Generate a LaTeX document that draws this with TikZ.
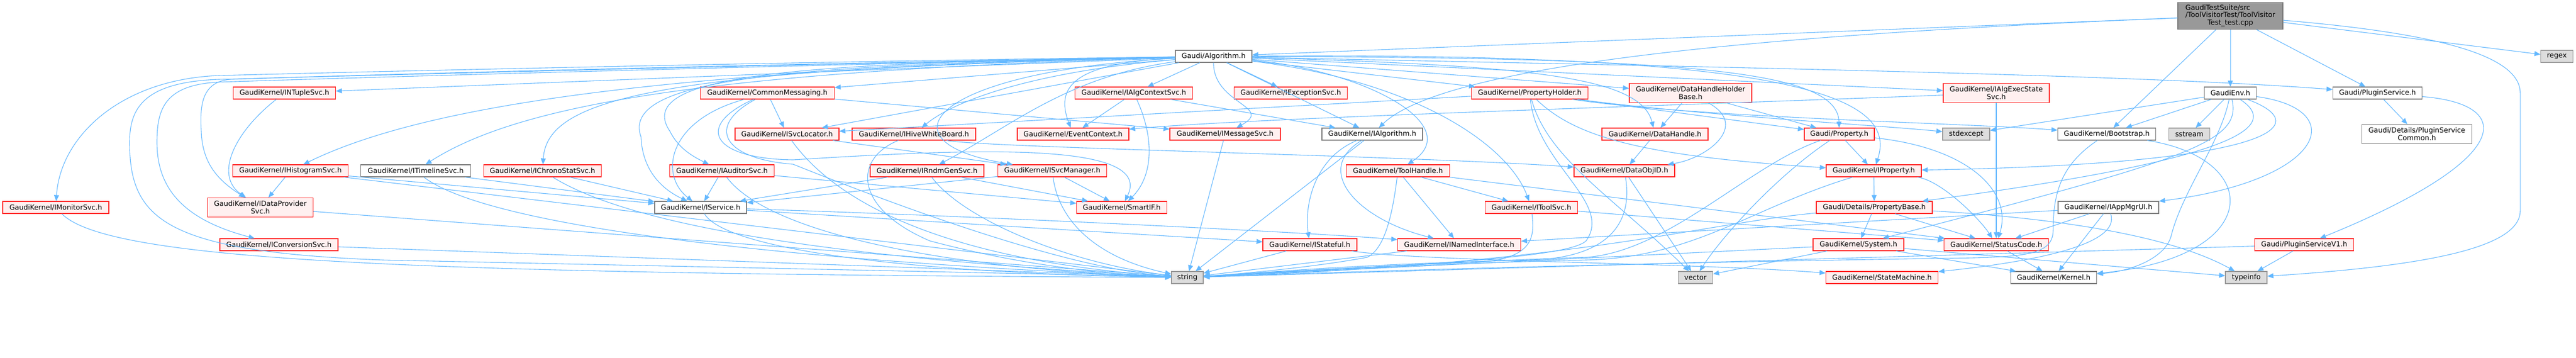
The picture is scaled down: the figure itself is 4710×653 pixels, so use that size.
\documentclass[tikz,border=0pt]{standalone}
\usepackage{fontspec}
\setmainfont{DejaVu Sans}
\usetikzlibrary{arrows.meta}
\definecolor{edgec}{HTML}{63B8FF}
\definecolor{redb}{HTML}{FF2020}
\definecolor{redf}{HTML}{FFF0F0}
\definecolor{grayb}{HTML}{7A7A7A}
\definecolor{extb}{HTML}{999999}
\definecolor{extf}{HTML}{DDDDDD}
\definecolor{rootf}{HTML}{999999}
\begin{document}
\begin{tikzpicture}[x=1pt,y=-1pt,
  box/.style={rectangle, inner sep=0pt, minimum height=22pt, line width=1.2pt, align=center,
    font=\fontsize{12.8pt}{13.7pt}\selectfont},
  rn/.style={box, draw=redb, fill=redf},
  gn/.style={box, draw=grayb, fill=white},
  xn/.style={box, draw=extb, fill=extf},
  rt/.style={box, draw=grayb, fill=rootf},
  dep/.style={draw=edgec, line width=1.1pt, -{Triangle[length=11pt,width=9pt]}}]
\useasboundingbox[fill=white] (0,0) rectangle (4710,653);
% ---------- nodes ----------
\node[rt, minimum width=192pt, minimum height=49pt] (root) at (4078,29)
  {\begin{tabular}{@{}l@{}}GaudiTestSuite/src\\/ToolVisitorTest/ToolVisitor\\\multicolumn{1}{@{}c@{}}{Test\_test.cpp}\end{tabular}};
\node[gn, minimum width=140pt] (alg) at (2219,103) {Gaudi/Algorithm.h};
\node[xn, minimum width=59pt] (regex) at (4675,103) {regex};
% row 2
\node[rn, minimum width=187pt] (intup) at (520,170) {GaudiKernel/INTupleSvc.h};
\node[rn, minimum width=245pt] (cmsg) at (1403,170) {GaudiKernel/CommonMessaging.h};
\node[rn, minimum width=215pt] (actx) at (2073,170) {GaudiKernel/IAlgContextSvc.h};
\node[rn, minimum width=207pt] (iexc) at (2360,170) {GaudiKernel/IExceptionSvc.h};
\node[rn, minimum width=213pt] (phold) at (2797,170) {GaudiKernel/PropertyHolder.h};
\node[rn, minimum width=224pt, minimum height=35pt] (dhhb) at (3091,170) {GaudiKernel/DataHandleHolder\\Base.h};
\node[rn, minimum width=194pt, minimum height=35pt] (aes) at (3650,170) {GaudiKernel/IAlgExecState\\Svc.h};
\node[gn, minimum width=95pt] (genv) at (4078,170) {GaudiEnv.h};
\node[gn, minimum width=163pt] (plug) at (4347,170) {Gaudi/PluginService.h};
% row 3
\node[rn, minimum width=190pt] (isl) at (1439,245) {GaudiKernel/ISvcLocator.h};
\node[rn, minimum width=226pt] (ihwb) at (1671,245) {GaudiKernel/IHiveWhiteBoard.h};
\node[rn, minimum width=204pt] (evc) at (1962,245) {GaudiKernel/EventContext.h};
\node[rn, minimum width=202pt] (imsg) at (2240,245) {GaudiKernel/IMessageSvc.h};
\node[gn, minimum width=184pt] (ialg) at (2509,245) {GaudiKernel/IAlgorithm.h};
\node[rn, minimum width=194pt] (dh) at (3026,245) {GaudiKernel/DataHandle.h};
\node[rn, minimum width=128pt] (prop) at (3363,245) {Gaudi/Property.h};
\node[xn, minimum width=86pt] (stdx) at (3595,245) {stdexcept};
\node[gn, minimum width=179pt] (boot) at (3852,245) {GaudiKernel/Bootstrap.h};
\node[xn, minimum width=75pt] (sstr) at (4003,245) {sstream};
\node[gn, minimum width=201pt, minimum height=35pt] (psc) at (4419,245) {Gaudi/Details/PluginService\\Common.h};
% row 4
\node[rn, minimum width=211pt] (ihist) at (531,312) {GaudiKernel/IHistogramSvc.h};
\node[gn, minimum width=201pt] (itl) at (760,312) {GaudiKernel/ITimelineSvc.h};
\node[rn, minimum width=215pt] (ichr) at (992,312) {GaudiKernel/IChronoStatSvc.h};
\node[rn, minimum width=191pt] (iaud) at (1320,312) {GaudiKernel/IAuditorSvc.h};
\node[rn, minimum width=208pt] (irnd) at (1695,312) {GaudiKernel/IRndmGenSvc.h};
\node[rn, minimum width=199pt] (ism) at (1924,312) {GaudiKernel/ISvcManager.h};
\node[rn, minimum width=189pt] (th) at (2556,312) {GaudiKernel/ToolHandle.h};
\node[rn, minimum width=184pt] (doid) at (2970,312) {GaudiKernel/DataObjID.h};
\node[rn, minimum width=174pt] (iprop) at (3426,312) {GaudiKernel/IProperty.h};
% row 5
\node[rn, minimum width=194pt] (imon) at (102,379) {GaudiKernel/IMonitorSvc.h};
\node[rn, minimum width=193pt, minimum height=35pt] (idp) at (476,379) {GaudiKernel/IDataProvider\\Svc.h};
\node[gn, minimum width=168pt] (isvc) at (1281,379) {GaudiKernel/IService.h};
\node[rn, minimum width=165pt] (sif) at (2051,379) {GaudiKernel/SmartIF.h};
\node[rn, minimum width=169pt] (itool) at (2800,379) {GaudiKernel/IToolSvc.h};
\node[rn, minimum width=212pt] (pbase) at (3427,379) {Gaudi/Details/PropertyBase.h};
\node[gn, minimum width=184pt] (iapp) at (3855,379) {GaudiKernel/IAppMgrUI.h};
% row 6
\node[rn, minimum width=216pt] (iconv) at (510,447) {GaudiKernel/IConversionSvc.h};
\node[rn, minimum width=172pt] (istf) at (2395,447) {GaudiKernel/IStateful.h};
\node[rn, minimum width=225pt] (inamed) at (2668,447) {GaudiKernel/INamedInterface.h};
\node[rn, minimum width=166pt] (sys) at (3398,447) {GaudiKernel/System.h};
\node[rn, minimum width=191pt] (sc) at (3650,447) {GaudiKernel/StatusCode.h};
\node[rn, minimum width=181pt] (pv1) at (4213,447) {Gaudi/PluginServiceV1.h};
% row 7
\node[xn, minimum width=58pt] (str) at (2171,507) {string};
\node[xn, minimum width=63pt] (vec) at (3100,507) {vector};
\node[rn, minimum width=205pt] (smach) at (3441,507) {GaudiKernel/StateMachine.h};
\node[gn, minimum width=157pt] (kern) at (3755,507) {GaudiKernel/Kernel.h};
\node[xn, minimum width=76pt] (tinfo) at (4107,507) {typeinfo};
% ---------- edges ----------
% root
\draw[dep] (root) -- (alg);
\draw[dep] (root) .. controls (3300,60) and (2650,110) .. (ialg);
\draw[dep] (root) -- (genv);
\draw[dep] (root) -- (boot);
\draw[dep] (root) -- (plug);
\draw[dep] (root) -- (regex);
\draw[dep] (root) .. controls (4450,60) and (4608,100) .. (4608,170) -- (4608,385) .. controls (4608,450) and (4450,485) .. (tinfo);
% Algorithm.h
\draw[dep] (alg) .. controls (1500,112) and (700,130) .. (400,138) .. controls (220,145) and (110,250) .. (imon);
\draw[dep] (alg) -- (intup);
\draw[dep] (alg) .. controls (1300,125) and (800,180) .. (ihist);
\draw[dep] (alg) .. controls (1300,130) and (950,190) .. (itl);
\draw[dep] (alg) .. controls (1500,115) and (700,135) .. (420,145) .. controls (370,150) and (365,190) .. (368,240) .. controls (370,300) and (400,330) .. (idp);
\draw[dep] (alg) .. controls (1500,118) and (700,140) .. (400,150) .. controls (300,155) and (287,200) .. (287,260) .. controls (287,340) and (330,400) .. (iconv);
\draw[dep] (alg) .. controls (1500,116) and (700,137) .. (400,145) .. controls (260,150) and (237,200) .. (237,260) .. controls (237,400) and (300,460) .. (700,475) .. controls (1400,490) and (1900,500) .. (str);
\draw[dep] (alg) .. controls (1200,125) and (1000,180) .. (ichr);
\draw[dep] (alg) -- (cmsg);
\draw[dep] (alg) -- (isl);
\draw[dep] (alg) .. controls (1500,115) and (1150,130) .. (1225,240) .. controls (1240,270) and (1265,285) .. (iaud);
\draw[dep] (alg) .. controls (1500,118) and (1130,135) .. (1172,250) .. controls (1175,320) and (1220,350) .. (isvc);
\draw[dep] (alg) .. controls (1900,130) and (1750,180) .. (ihwb);
\draw[dep] (alg) .. controls (1960,115) and (1930,160) .. (evc);
\draw[dep] (alg) .. controls (1950,140) and (1850,230) .. (irnd);
\draw[dep] (alg) .. controls (1700,130) and (1600,260) .. (ism);
\draw[dep] (alg) -- (actx);
\draw[dep] (alg) .. controls (2218,190) and (2330,195) .. (imsg);
\draw[dep] (alg) -- (iexc);
\draw[dep] (alg) -- (ialg);
\draw[dep] (alg) .. controls (2500,130) and (2680,230) .. (th);
\draw[dep] (alg) -- (phold);
\draw[dep] (alg) .. controls (2600,150) and (2760,270) .. (itool);
\draw[dep] (alg) -- (dhhb);
\draw[dep] (alg) .. controls (2800,120) and (3000,140) .. (dh);
\draw[dep] (alg) .. controls (3100,105) and (3360,130) .. (prop);
\draw[dep] (alg) .. controls (3300,95) and (3470,180) .. (iprop);
\draw[dep] (alg) -- (aes);
\draw[dep] (alg) .. controls (3000,120) and (3900,135) .. (plug);
% PluginService
\draw[dep] (plug) -- (psc);
\draw[dep] (plug) .. controls (4600,190) and (4600,290) .. (pv1);
\draw[dep] (pv1) -- (tinfo);
\draw[dep] (pv1) -- (str);
% GaudiEnv
\draw[dep] (genv) -- (boot);
\draw[dep] (genv) -- (sstr);
\draw[dep] (genv) -- (stdx);
\draw[dep] (genv) .. controls (4300,200) and (4250,330) .. (iapp);
\draw[dep] (genv) .. controls (4240,230) and (4150,300) .. (iprop);
\draw[dep] (genv) .. controls (4170,230) and (4100,290) .. (pbase);
\draw[dep] (genv) .. controls (4100,260) and (4000,290) .. (sys);
\draw[dep] (genv) .. controls (4060,260) and (3990,350) .. (3970,430) .. controls (3960,470) and (3900,495) .. (kern);
% Bootstrap
\draw[dep] (boot) .. controls (3770,300) and (3754,350) .. (3754,420) .. controls (3754,468) and (3700,470) .. (3550,472) .. controls (3000,480) and (2500,495) .. (str);
\draw[dep] (boot) .. controls (4140,290) and (4140,470) .. (kern);
% IAppMgrUI
\draw[dep] (iapp) -- (sc);
\draw[dep] (iapp) -- (kern);
\draw[dep] (iapp) .. controls (3880,450) and (3700,480) .. (smach);
\draw[dep] (iapp) -- (inamed);
% StatusCode, System, PropertyBase, IProperty, Property
\draw[dep] (sc) -- (kern);
\draw[dep] (sys) -- (str);
\draw[dep] (sys) -- (vec);
\draw[dep] (sys) -- (kern);
\draw[dep] (sys) -- (tinfo);
\draw[dep] (pbase) -- (sys);
\draw[dep] (pbase) .. controls (3100,410) and (2900,480) .. (str);
\draw[dep] (pbase) -- (sc);
\draw[dep] (pbase) .. controls (3700,395) and (3950,420) .. (tinfo);
\draw[dep] (iprop) -- (pbase);
\draw[dep] (iprop) .. controls (3200,380) and (3100,470) .. (2900,475) .. controls (2600,482) and (2400,495) .. (str);
\draw[dep] (iprop) .. controls (3550,330) and (3620,400) .. (sc);
\draw[dep] (prop) -- (iprop);
\draw[dep] (prop) .. controls (3200,300) and (3050,460) .. (2900,470) .. controls (2600,480) and (2400,495) .. (str);
\draw[dep] (prop) .. controls (3600,270) and (3680,350) .. (sc);
\draw[dep] (prop) .. controls (3250,320) and (3150,430) .. (vec);
% data handles
\draw[dep] (dhhb) -- (dh);
\draw[dep] (dhhb) .. controls (3200,230) and (3120,290) .. (doid);
\draw[dep] (dhhb) -- (prop);
\draw[dep] (dh) -- (doid);
\draw[dep] (doid) .. controls (2985,400) and (2950,470) .. (2800,475) .. controls (2500,482) and (2350,495) .. (str);
\draw[dep] (doid) -- (vec);
% PropertyHolder
\draw[dep] (phold) -- (prop);
\draw[dep] (phold) .. controls (2880,250) and (3000,285) .. (iprop);
\draw[dep] (phold) .. controls (2810,300) and (2950,370) .. (2900,440) .. controls (2860,480) and (2400,490) .. (str);
\draw[dep] (phold) .. controls (2830,290) and (2950,360) .. (vec);
\draw[dep] (phold) .. controls (3100,215) and (3600,225) .. (boot);
\draw[dep] (phold) .. controls (3100,210) and (3450,230) .. (stdx);
\draw[dep] (phold) -- (isl);
% tools
\draw[dep] (th) .. controls (2545,400) and (2530,455) .. (2500,470) .. controls (2420,485) and (2300,498) .. (str);
\draw[dep] (th) -- (inamed);
\draw[dep] (th) -- (itool);
\draw[dep] (th) -- (sc);
\draw[dep] (itool) .. controls (2805,430) and (2810,478) .. (2680,480) .. controls (2500,486) and (2350,497) .. (str);
\draw[dep] (itool) -- (sc);
% IAlgorithm
\draw[dep] (ialg) .. controls (2400,290) and (2385,380) .. (istf);
\draw[dep] (ialg) .. controls (2400,310) and (2480,400) .. (inamed);
\draw[dep] (ialg) -- (str);
% IAlgContextSvc, IAlgExecStateSvc
\draw[dep] (actx) -- (evc);
\draw[dep] (actx) .. controls (2110,250) and (2110,320) .. (sif);
\draw[dep] (actx) -- (ialg);
\draw[dep] (aes) -- (sc);
\draw[dep] (aes) .. controls (3000,195) and (2300,215) .. (evc);
% messaging and services
\draw[dep] (imsg) -- (str);
\draw[dep] (cmsg) -- (isl);
\draw[dep] (cmsg) .. controls (1220,220) and (1205,320) .. (isvc);
\draw[dep] (cmsg) .. controls (1270,230) and (1300,290) .. (1450,292) .. controls (1800,270) and (2110,260) .. (sif);
\draw[dep] (cmsg) -- (imsg);
\draw[dep] (cmsg) .. controls (1290,230) and (1320,290) .. (1450,300) .. controls (1650,380) and (1950,490) .. (str);
\draw[dep] (isl) -- (ism);
\draw[dep] (isl) .. controls (1500,330) and (1650,470) .. (str);
\draw[dep] (ihwb) .. controls (1560,290) and (1560,380) .. (1700,440) .. controls (1850,480) and (2000,500) .. (str);
\draw[dep] (ihwb) .. controls (1800,270) and (2600,285) .. (doid);
\draw[dep] (ism) -- (isvc);
\draw[dep] (ism) -- (sif);
\draw[dep] (ism) .. controls (1935,400) and (2000,470) .. (str);
\draw[dep] (irnd) -- (isvc);
\draw[dep] (irnd) -- (sif);
\draw[dep] (irnd) .. controls (1760,400) and (1950,480) .. (str);
\draw[dep] (iaud) -- (isvc);
\draw[dep] (iaud) -- (sif);
\draw[dep] (iaud) .. controls (1400,420) and (1700,490) .. (str);
\draw[dep] (ichr) -- (isvc);
\draw[dep] (ichr) .. controls (1150,410) and (1500,470) .. (str);
\draw[dep] (itl) -- (isvc);
\draw[dep] (itl) .. controls (900,420) and (1500,480) .. (str);
\draw[dep] (ihist) -- (idp);
\draw[dep] (ihist) -- (isvc);
\draw[dep] (ihist) -- (str);
\draw[dep] (intup) .. controls (430,240) and (390,320) .. (idp);
\draw[dep] (imon) .. controls (200,480) and (800,500) .. (str);
\draw[dep] (idp) -- (str);
\draw[dep] (iconv) -- (str);
\draw[dep] (isvc) .. controls (1330,460) and (1700,500) .. (str);
\draw[dep] (isvc) -- (istf);
\draw[dep] (isvc) .. controls (1800,395) and (2400,425) .. (inamed);
\draw[dep] (istf) -- (str);
\draw[dep] (istf) .. controls (2600,478) and (3100,480) .. (smach);
\draw[dep] (inamed) -- (str);
\end{tikzpicture}
\end{document}
